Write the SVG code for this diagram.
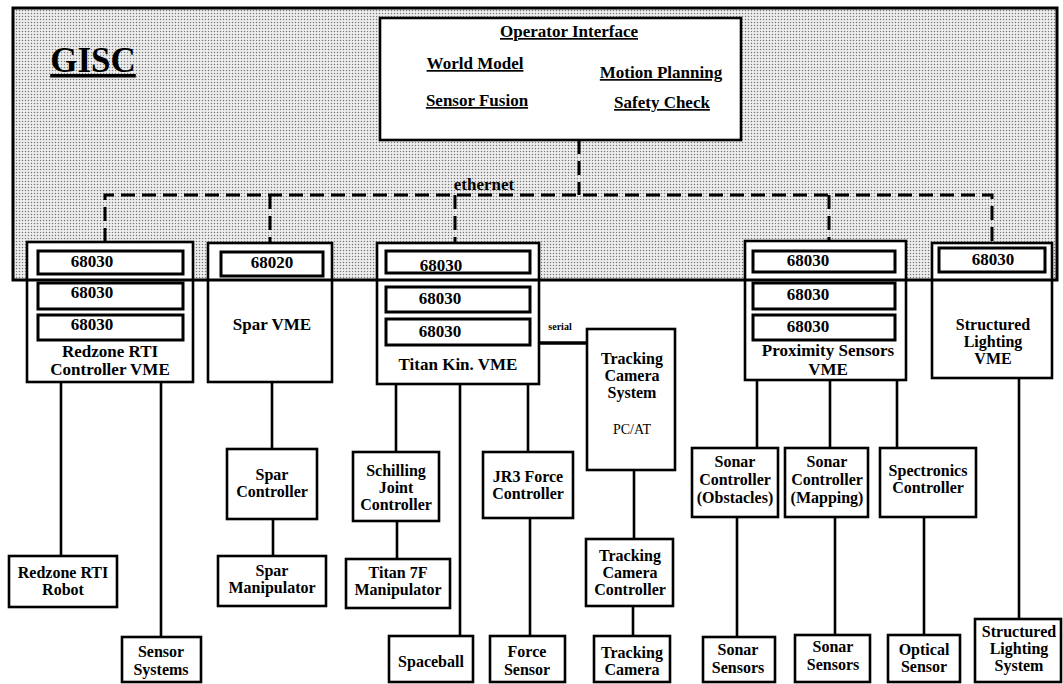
<svg xmlns="http://www.w3.org/2000/svg" width="1063" height="684" viewBox="0 0 1063 684">
<style>
.box{fill:#fff;stroke:#000;stroke-width:2.6}
.cpu{fill:#fff;stroke:#000;stroke-width:3}
.t{font-family:"Liberation Serif","Times New Roman",serif;font-weight:bold;font-size:17px;fill:#000;text-anchor:middle}
.s{font-size:16px}
.u{text-decoration:underline}
.reg{font-weight:normal;font-size:14px}
.eth{fill:none;stroke:#000;stroke-width:3;stroke-dasharray:14 7}
.ln{fill:none;stroke:#000;stroke-width:2.6}
</style>
<defs>
<pattern id="dots" patternUnits="userSpaceOnUse" width="3" height="3">
<rect width="3" height="3" fill="#eeeeee"/>
<circle cx="1.5" cy="1.5" r="0.75" fill="#777"/>
</pattern>
</defs>
<rect width="1063" height="684" fill="#fff"/>
<g id="gisc">
<rect x="13" y="8" width="1044" height="272" fill="url(#dots)"/>
<text class="t u" x="93" y="72" style="font-size:35px">GISC</text>
</g>
<g id="operator">
<rect class="box" x="380" y="18" width="361" height="122" stroke-width="3"/>
<text class="t u" x="569" y="37">Operator Interface</text>
<text class="t u" x="475" y="69">World Model</text>
<text class="t u" x="661" y="78">Motion Planning</text>
<text class="t u" x="477" y="106">Sensor Fusion</text>
<text class="t u" x="662" y="108">Safety Check</text>
</g>
<g id="connectors">
<path class="eth" d="M105,242 V195 H992 V241"/>
<path class="eth" d="M270,195 V243 M455,195 V243 M829,195 V241 M579,140 V195"/>
<text class="t" x="484" y="190">ethernet</text>
<path d="M539,343 H587" stroke="#000" stroke-width="3.5"/>
<text class="t" x="560" y="330" style="font-size:10px">serial</text>
<path class="ln" d="M61,382 V556 M161,382 V637 M272,382 V449 M273,519 V556 M396,384 V452 M397,521 V559 M460,384 V636 M528,384 V452 M530,518 V636 M634,470 V539 M633,606 V636 M757,380 V448 M737,517 V637 M830,380 V448 M835,517 V635 M897,380 V448 M924,517 V635 M1019,378 V619"/>
</g>
<g id="redzone-vme">
<rect class="box" x="27" y="242" width="166" height="140"/>
<rect class="cpu" x="38" y="251" width="145" height="23"/>
<rect class="cpu" x="38" y="283" width="145" height="26"/>
<rect class="cpu" x="38" y="315" width="145" height="25"/>
<text class="t" x="92" y="267">68030</text>
<text class="t" x="92" y="298">68030</text>
<text class="t" x="92" y="330">68030</text>
<text class="t" x="110" y="357">Redzone RTI</text>
<text class="t" x="110" y="375">Controller VME</text>
</g>
<g id="spar-vme">
<rect class="box" x="208" y="243" width="124" height="139"/>
<rect class="cpu" x="221" y="252" width="102" height="24"/>
<text class="t" x="272" y="268">68020</text>
<text class="t" x="272" y="330">Spar VME</text>
</g>
<g id="titan-vme">
<rect class="box" x="377" y="243" width="162" height="141"/>
<rect class="cpu" x="386" y="251" width="144" height="22"/>
<rect class="cpu" x="386" y="287" width="144" height="25"/>
<rect class="cpu" x="386" y="319" width="144" height="26"/>
<text class="t" x="441" y="271">68030</text>
<text class="t" x="440" y="304">68030</text>
<text class="t" x="440" y="337">68030</text>
<text class="t" x="458" y="370">Titan Kin. VME</text>
</g>
<g id="tracking-system">
<rect class="box" x="587" y="329" width="88" height="141"/>
<text class="t s" x="632" y="364">Tracking</text>
<text class="t s" x="632" y="381">Camera</text>
<text class="t s" x="632" y="398">System</text>
<text class="t reg" x="632" y="434">PC/AT</text>
</g>
<g id="proximity-vme">
<rect class="box" x="745" y="241" width="161" height="139"/>
<rect class="cpu" x="753" y="251" width="142" height="21"/>
<rect class="cpu" x="753" y="283" width="142" height="26"/>
<rect class="cpu" x="753" y="315" width="142" height="25"/>
<text class="t" x="808" y="266">68030</text>
<text class="t" x="808" y="300">68030</text>
<text class="t" x="808" y="332">68030</text>
<text class="t" x="828" y="356">Proximity Sensors</text>
<text class="t" x="828" y="375">VME</text>
</g>
<g id="lighting-vme">
<rect class="box" x="932" y="243" width="120" height="135"/>
<rect class="cpu" x="939" y="248" width="106" height="24"/>
<text class="t" x="993" y="265">68030</text>
<text class="t s" x="993" y="330">Structured</text>
<text class="t s" x="993" y="347">Lighting</text>
<text class="t s" x="993" y="364">VME</text>
</g>
<rect x="13" y="8" width="1044" height="272" fill="none" stroke="#000" stroke-width="3"/>
<g id="spar-controller">
<rect class="box" x="227" y="449" width="90" height="70"/>
<text class="t s" x="272" y="480">Spar</text>
<text class="t s" x="272" y="497">Controller</text>
</g>
<g id="schilling">
<rect class="box" x="353" y="452" width="86" height="69"/>
<text class="t s" x="396" y="476">Schilling</text>
<text class="t s" x="396" y="493">Joint</text>
<text class="t s" x="396" y="510">Controller</text>
</g>
<g id="jr3">
<rect class="box" x="483" y="452" width="90" height="66"/>
<text class="t s" x="528" y="482">JR3 Force</text>
<text class="t s" x="528" y="499">Controller</text>
</g>
<g id="sonar-obstacles">
<rect class="box" x="692" y="448" width="86" height="69"/>
<text class="t s" x="735" y="467">Sonar</text>
<text class="t s" x="735" y="485">Controller</text>
<text class="t s" x="735" y="503">(Obstacles)</text>
</g>
<g id="sonar-mapping">
<rect class="box" x="785" y="448" width="83" height="69"/>
<text class="t s" x="827" y="467">Sonar</text>
<text class="t s" x="827" y="485">Controller</text>
<text class="t s" x="827" y="503">(Mapping)</text>
</g>
<g id="spectronics">
<rect class="box" x="880" y="448" width="96" height="69"/>
<text class="t s" x="928" y="476">Spectronics</text>
<text class="t s" x="928" y="493">Controller</text>
</g>
<g id="tracking-controller">
<rect class="box" x="586" y="539" width="87" height="67"/>
<text class="t s" x="630" y="561">Tracking</text>
<text class="t s" x="630" y="578">Camera</text>
<text class="t s" x="630" y="595">Controller</text>
</g>
<g id="redzone-robot">
<rect class="box" x="9" y="556" width="108" height="51"/>
<text class="t s" x="63" y="578">Redzone RTI</text>
<text class="t s" x="63" y="595">Robot</text>
</g>
<g id="spar-manipulator">
<rect class="box" x="218" y="556" width="108" height="50"/>
<text class="t s" x="272" y="576">Spar</text>
<text class="t s" x="272" y="593">Manipulator</text>
</g>
<g id="titan-manipulator">
<rect class="box" x="346" y="559" width="104" height="49"/>
<text class="t s" x="398" y="578">Titan 7F</text>
<text class="t s" x="398" y="595">Manipulator</text>
</g>
<g id="sensor-systems">
<rect class="box" x="122" y="637" width="79" height="45"/>
<text class="t s" x="161" y="657">Sensor</text>
<text class="t s" x="161" y="675">Systems</text>
</g>
<g id="spaceball">
<rect class="box" x="389" y="636" width="84" height="46"/>
<text class="t s" x="431" y="667">Spaceball</text>
</g>
<g id="force-sensor">
<rect class="box" x="490" y="636" width="75" height="46"/>
<text class="t s" x="527" y="657">Force</text>
<text class="t s" x="527" y="675">Sensor</text>
</g>
<g id="tracking-camera">
<rect class="box" x="594" y="636" width="76" height="46"/>
<text class="t s" x="632" y="658">Tracking</text>
<text class="t s" x="632" y="675">Camera</text>
</g>
<g id="sonar-sensors-1">
<rect class="box" x="703" y="637" width="72" height="45"/>
<text class="t s" x="738" y="655">Sonar</text>
<text class="t s" x="738" y="673">Sensors</text>
</g>
<g id="sonar-sensors-2">
<rect class="box" x="795" y="635" width="75" height="47"/>
<text class="t s" x="833" y="652">Sonar</text>
<text class="t s" x="833" y="670">Sensors</text>
</g>
<g id="optical-sensor">
<rect class="box" x="888" y="635" width="72" height="47"/>
<text class="t s" x="924" y="655">Optical</text>
<text class="t s" x="924" y="672">Sensor</text>
</g>
<g id="lighting-system">
<rect class="box" x="975" y="619" width="86" height="63"/>
<text class="t s" x="1019" y="637">Structured</text>
<text class="t s" x="1019" y="654">Lighting</text>
<text class="t s" x="1019" y="671">System</text>
</g>
</svg>
